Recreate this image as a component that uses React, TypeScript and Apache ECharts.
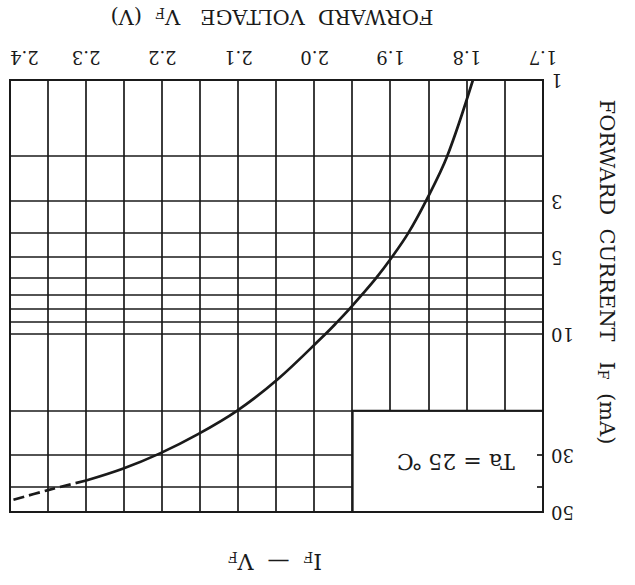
import React, { useEffect, useRef } from 'react';
import * as echarts from 'echarts';

// Forward voltage axis (V)
const xMin = 1.7;
const xMax = 2.4;
const xGridStep = 0.05;
const xTickLabels = ['1.7', '1.8', '1.9', '2.0', '2.1', '2.2', '2.3', '2.4'];

// Forward current axis (mA), log scale
const yMin = 1;
const yMax = 50;
const yTickLabels = [1, 3, 5, 10, 30, 50];
const yTickMarks = [30, 40];
const yGridFull = [2, 3, 4, 5, 6, 7, 8, 9, 10, 20];
const yGridPartial = [30, 40];

// Ta = 25 ℃ box (data extents)
const boxV = [1.7, 1.95];
const boxI = [20, 50];
const boxText = 'Ta = 25 ℃';

// IF – VF curve (solid part)
const curveV = [1.792, 1.826, 1.854, 1.877, 1.899, 1.919, 1.938, 1.955, 1.971, 1.986, 2.048, 2.102, 2.153, 2.203, 2.252, 2.3];
const curveI = [1.0, 2.0, 3.0, 4.0, 5.0, 6.0, 7.0, 8.0, 9.0, 10.0, 15.0, 20.0, 24.7, 29.4, 33.8, 37.6];
// extrapolated (dashed) part
const dashV = [2.3, 2.35, 2.398];
const dashI = [37.6, 41.0, 45.0];

export default function App() {
  const ref = useRef<HTMLDivElement>(null);

  useEffect(() => {
    if (!ref.current) return;
    const chart = echarts.init(ref.current, null, { renderer: 'svg' });
    const ink = '#1a1a1a';
    const font = "'DejaVu Serif', 'Liberation Serif', 'Noto Sans CJK JP', serif";
    const sub = { fontSize: 14, lineHeight: 15, verticalAlign: 'bottom', fontFamily: font, fill: ink };
    const base = { fontSize: 21, lineHeight: 25, verticalAlign: 'bottom', fontFamily: font, fill: ink };

    const option: any = {
      animation: false,
      backgroundColor: '#ffffff',
      grid: {
        left: 92,
        right: 10,
        top: 73,
        bottom: 80,
        show: true,
        borderColor: ink,
        borderWidth: 2,
        backgroundColor: 'transparent',
        outerBoundsMode: 'none',
      },
      xAxis: {
        type: 'value',
        min: xMin,
        max: xMax,
        interval: xGridStep,
        axisLine: { show: false },
        axisTick: { show: false },
        splitLine: { show: true, lineStyle: { color: ink, width: 1.7 } },
        axisLabel: {
          margin: 14,
          fontFamily: font,
          fontSize: 18,
          color: ink,
          alignMaxLabel: 'right',
          formatter: (v: number) => {
            const t = v * 10;
            if (Math.abs(t - Math.round(t)) > 1e-6) return '';
            const s = v.toFixed(1);
            return xTickLabels.indexOf(s) >= 0 ? s : '';
          },
        },
      },
      yAxis: {
        type: 'log',
        logBase: 10,
        min: yMin,
        max: yMax,
        z: 10,
        axisLine: { show: false },
        splitLine: { show: false },
        axisTick: {
          show: true,
          inside: true,
          length: 6,
          customValues: yTickMarks,
          lineStyle: { color: ink, width: 1.7 },
        },
        axisLabel: {
          customValues: yTickLabels,
          margin: 8,
          fontFamily: font,
          fontSize: 18,
          color: ink,
        },
      },
      series: [
        {
          type: 'line',
          data: [],
          z: 1,
          silent: true,
          markLine: {
            silent: true,
            symbol: ['none', 'none'],
            label: { show: false },
            lineStyle: { color: ink, width: 1.7, type: 'solid' },
            data: [
              ...yGridFull.map((v) => ({ yAxis: v })),
              ...yGridPartial.map((v) => [{ coord: [boxV[1], v] }, { coord: [xMax, v] }]),
            ],
          },
        },
        {
          type: 'line',
          data: [],
          z: 3,
          silent: true,
          markArea: {
            silent: true,
            itemStyle: { color: '#ffffff', borderColor: ink, borderWidth: 2 },
            label: {
              show: true,
              position: 'inside',
              offset: [-8, 0],
              formatter: boxText,
              fontFamily: font,
              fontSize: 22,
              color: ink,
            },
            data: [[{ coord: [boxV[0], boxI[1]] }, { coord: [boxV[1], boxI[0]] }]],
          },
        },
        {
          type: 'line',
          z: 4,
          data: curveV.map((v, i) => [v, curveI[i]]),
          smooth: 0.35,
          symbol: 'none',
          lineStyle: { color: ink, width: 2.7 },
        },
        {
          type: 'line',
          z: 4,
          data: dashV.map((v, i) => [v, dashI[i]]),
          smooth: 0.35,
          symbol: 'none',
          lineStyle: { color: ink, width: 2.7, type: [11, 5] },
        },
      ],
      graphic: [
        {
          type: 'text',
          x: 360,
          y: 22,
          style: {
            text: '{b|I}{s|F}{b|  —  V}{s|F}',
            rich: { b: { ...base, fontSize: 22 }, s: sub },
            align: 'center',
            verticalAlign: 'middle',
          },
        },
        {
          type: 'text',
          x: 363,
          y: 566,
          style: {
            text: '{b|FORWARD  VOLTAGE   V}{s|F}{b|  (V)}',
            rich: { b: base, s: sub },
            align: 'center',
            verticalAlign: 'middle',
          },
        },
        {
          type: 'text',
          x: 26,
          y: 313,
          rotation: Math.PI / 2,
          style: {
            text: '{b|FORWARD  CURRENT   I}{s|F}{b|  (mA)}',
            rich: { b: base, s: sub },
            align: 'center',
            verticalAlign: 'middle',
          },
        },
      ],
    };

    chart.setOption(option);
    return () => chart.dispose();
  }, []);

  return (
    <div
      style={{
        position: 'absolute',
        left: 0,
        top: 0,
        width: 635,
        height: 585,
        transform: 'rotate(180deg)',
        background: '#ffffff',
      }}
    >
      <div ref={ref} style={{ width: 635, height: 585 }} />
    </div>
  );
}
